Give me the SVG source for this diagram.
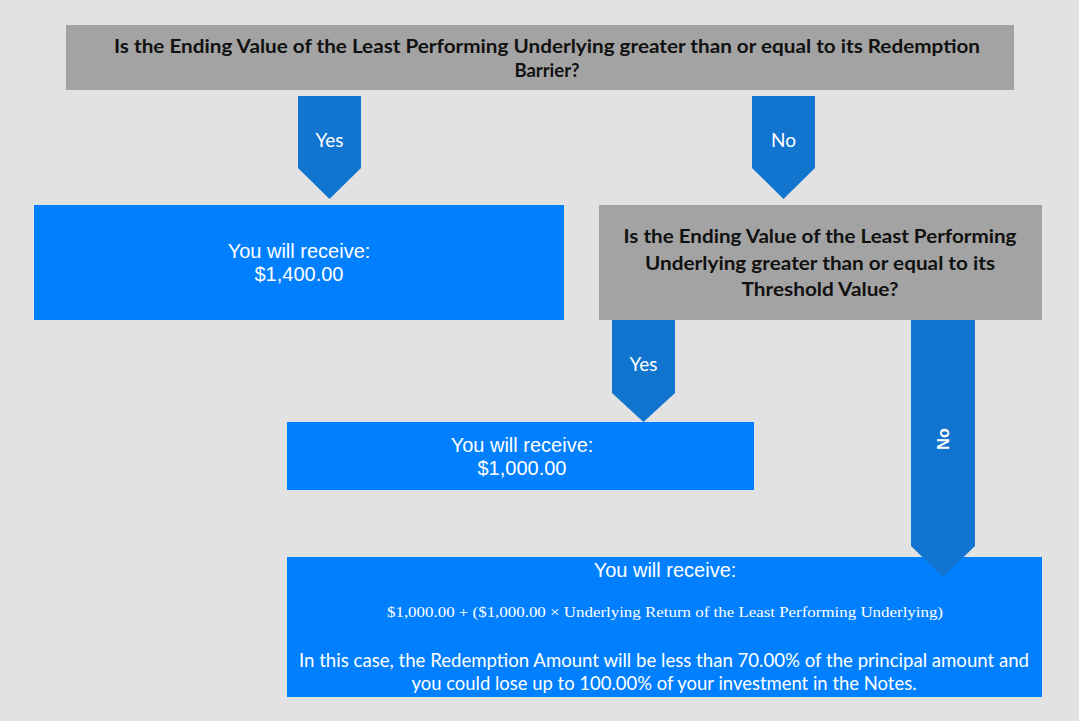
<svg xmlns="http://www.w3.org/2000/svg" width="1079" height="721" viewBox="0 0 1079 721">
<style>
.q{fill:#a3a3a3}
.b{fill:#0080ff}
.ar{fill:#1174cf}
.qt{font-family:Lato,"Open Sans",sans-serif;font-weight:bold;font-size:18.5px;fill:#111;text-anchor:middle}
.lb{font-family:Lato,"Open Sans",sans-serif;font-size:19px;fill:#fff;text-anchor:middle}
.rv{font-family:"Liberation Sans",Arial,sans-serif;font-size:20px;fill:#fff;text-anchor:middle}
.fm{font-family:"Liberation Serif","Times New Roman",serif;font-size:15px;fill:#fff;text-anchor:middle}
.nt{font-family:Lato,"Open Sans",sans-serif;font-size:19px;fill:#fff;text-anchor:middle}
</style>
<rect width="1079" height="721" fill="#e2e2e2"/>
<g id="q1">
<rect class="q" x="66" y="25" width="948" height="65"/>
<text class="qt" x="547" y="53" textLength="866" lengthAdjust="spacingAndGlyphs">Is the Ending Value of the Least Performing Underlying greater than or equal to its Redemption</text>
<text class="qt" x="547" y="77">Barrier?</text>
</g>
<g id="r1400">
<rect class="b" x="34" y="205" width="530" height="115"/>
<text class="rv" x="299" y="258">You will receive:</text>
<text class="rv" x="299" y="281">$1,400.00</text>
</g>
<g id="q2">
<rect class="q" x="599" y="205" width="443" height="115"/>
<text class="qt" x="820" y="243" textLength="393" lengthAdjust="spacingAndGlyphs">Is the Ending Value of the Least Performing</text>
<text class="qt" x="820" y="270" textLength="350" lengthAdjust="spacingAndGlyphs">Underlying greater than or equal to its</text>
<text class="qt" x="820" y="296" textLength="157" lengthAdjust="spacingAndGlyphs">Threshold Value?</text>
</g>
<g id="r1000">
<rect class="b" x="287" y="422" width="467" height="68"/>
<text class="rv" x="522" y="452">You will receive:</text>
<text class="rv" x="522" y="475">$1,000.00</text>
</g>
<g id="rloss">
<rect class="b" x="287" y="557" width="755" height="140"/>
<text class="rv" x="665" y="577">You will receive:</text>
<text class="fm" x="665" y="617" textLength="556" lengthAdjust="spacingAndGlyphs">$1,000.00 + ($1,000.00 × Underlying Return of the Least Performing Underlying)</text>
<text class="nt" x="664" y="667" textLength="730" lengthAdjust="spacingAndGlyphs">In this case, the Redemption Amount will be less than 70.00% of the principal amount and</text>
<text class="nt" x="664" y="690" textLength="505" lengthAdjust="spacingAndGlyphs">you could lose up to 100.00% of your investment in the Notes.</text>
</g>
<g id="connectors">
<g id="yes1">
<polygon class="ar" points="298,96 361,96 361,168 329.5,199 298,168"/>
<text class="lb" x="329.5" y="147">Yes</text>
</g>
<g id="no1">
<polygon class="ar" points="752,96 815,96 815,168 783.5,199 752,168"/>
<text class="lb" x="783.5" y="147">No</text>
</g>
<g id="yes2">
<polygon class="ar" points="612,320 675,320 675,393 643.5,422 612,393"/>
<text class="lb" x="643.5" y="371">Yes</text>
</g>
<g id="no2">
<polygon class="ar" points="911,320 975,320 975,546 943,577 911,546"/>
<text x="0" y="0" transform="translate(949,439) rotate(-90)" style="font-family:'Liberation Sans',Arial,sans-serif;font-weight:bold;font-size:16px;fill:#fff;text-anchor:middle">No</text>
</g>
</g>
</svg>
